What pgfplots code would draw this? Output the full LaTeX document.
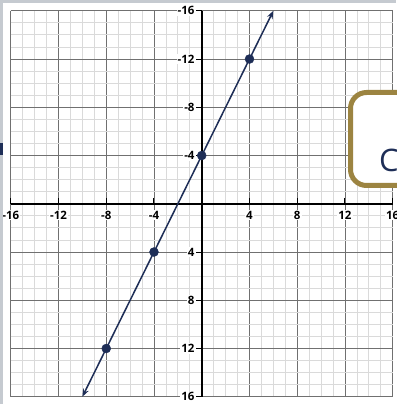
\documentclass[border=0pt]{standalone}
\usepackage{fontspec}
\setmainfont{Open Sans}
\usepackage{pgfplots}
\pgfplotsset{compat=1.18}
\usetikzlibrary{arrows.meta}
\definecolor{navy}{HTML}{1E2E57}
\definecolor{gold}{HTML}{9C8441}
\definecolor{framegray}{HTML}{C5CAD0}
\definecolor{minorgrid}{HTML}{DADADA}
\definecolor{majorgrid}{HTML}{707070}

\begin{document}
\begin{tikzpicture}[x=1pt,y=1pt]
\fill[white] (0,0) rectangle (396,404);
% y dir=reverse flips the y of "at"
\begin{axis}[
  at={(9,-6)}, anchor=south west,
  scale only axis, width=382pt, height=386pt,
  xmin=-16, xmax=16, ymin=-16, ymax=16,
  y dir=reverse,
  axis lines=middle,
  axis line style={-, line width=2.4pt, black},
  xtick={-16,-12,-8,-4,4,8,12,16},
  ytick={-16,-12,-8,-4,4,8,12,16},
  minor xtick={-16,...,16},
  minor ytick={-16,...,16},
  grid=both,
  major grid style={majorgrid, line width=0.9pt},
  minor grid style={minorgrid, line width=0.8pt},
  tick align=outside,
  major tick length=6pt, minor tick length=0pt,
  tick style={black, line width=1pt},
  tick label style={font=\bfseries\fontsize{11.5}{13}\selectfont, fill=white, inner sep=1pt},
  /pgf/number format/assume math mode=true,
  clip=false,
]
\addplot[navy, line width=1.5pt, arrows={Stealth[length=8pt,width=6pt]-Stealth[length=8pt,width=6pt]}]
  coordinates {(-10,16) (6,-16)};
\addplot[only marks, mark=*, mark size=4.5pt, navy]
  coordinates {(-8,12) (-4,4) (0,-4) (4,-12)};
\end{axis}
\draw[gold, line width=5pt, fill=white, rounded corners=16pt] (350.5,218.5) rectangle (440,311.5);
\node[navy, font=\fontsize{31}{33}\selectfont, anchor=west, inner sep=0pt] at (379,244) {C};
\fill[framegray] (0,0) rectangle (3,404);
\fill[framegray] (0,401) rectangle (396,404);
\fill[navy] (0,249) rectangle (3,261);
\pgfresetboundingbox
\path[use as bounding box] (0,0) rectangle (396,404);
\end{tikzpicture}
\end{document}
